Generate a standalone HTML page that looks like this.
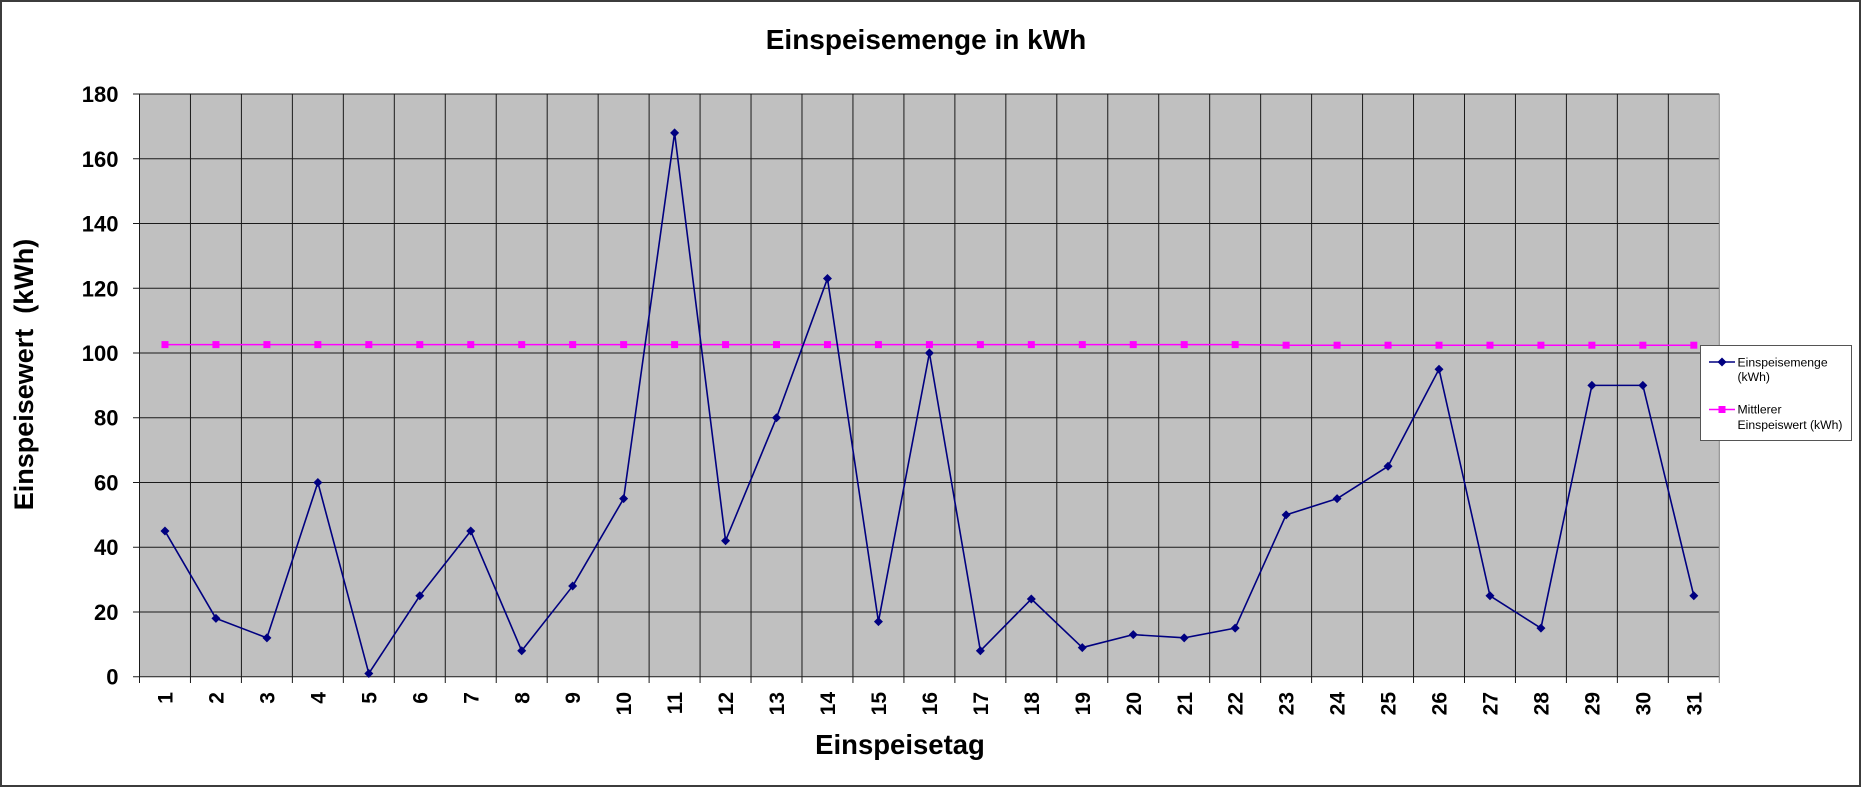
<!DOCTYPE html>
<html>
<head>
<meta charset="utf-8">
<style>
  html, body { margin:0; padding:0; background:#fff; }
  svg { display:block; }
  text { font-family: "Liberation Sans", Arial, sans-serif; }
</style>
</head>
<body>
<svg width="1861" height="787" viewBox="0 0 1861 787" xmlns="http://www.w3.org/2000/svg">
  <defs>
    <path id="dia" d="M0,-4.5 L4.5,0 L0,4.5 L-4.5,0 Z" fill="#000080"/>
    <rect id="sq" x="-3.5" y="-3.5" width="7" height="7" fill="#FF00FF"/>
  </defs>
  <rect x="0" y="0" width="1861" height="787" fill="#fff"/>
  <rect x="1" y="1" width="1859" height="785" fill="none" stroke="#3c3c3c" stroke-width="2"/>

  <!-- title -->
  <text x="926" y="49" font-size="28" font-weight="bold" text-anchor="middle" fill="#000">Einspeisemenge in kWh</text>

  <!-- plot area -->
  <rect x="139.5" y="94" width="1579.8" height="582.7" fill="#C0C0C0"/>

  <!-- horizontal gridlines -->
  <g stroke="#1a1a1a" stroke-width="1">
    <line x1="133" y1="94" x2="1719.3" y2="94"/>
    <line x1="133" y1="158.8" x2="1719.3" y2="158.8"/>
    <line x1="133" y1="223.5" x2="1719.3" y2="223.5"/>
    <line x1="133" y1="288.3" x2="1719.3" y2="288.3"/>
    <line x1="133" y1="353" x2="1719.3" y2="353"/>
    <line x1="133" y1="417.7" x2="1719.3" y2="417.7"/>
    <line x1="133" y1="482.5" x2="1719.3" y2="482.5"/>
    <line x1="133" y1="547.2" x2="1719.3" y2="547.2"/>
    <line x1="133" y1="612" x2="1719.3" y2="612"/>
    <line x1="133" y1="676.7" x2="1719.3" y2="676.7"/>
  </g>
  <!-- vertical gridlines + ticks -->
  <g stroke="#1a1a1a" stroke-width="1">
    <line x1="139.5" y1="94" x2="139.5" y2="683"/>
    <line x1="190.46" y1="94" x2="190.46" y2="683"/>
    <line x1="241.42" y1="94" x2="241.42" y2="683"/>
    <line x1="292.38" y1="94" x2="292.38" y2="683"/>
    <line x1="343.34" y1="94" x2="343.34" y2="683"/>
    <line x1="394.31" y1="94" x2="394.31" y2="683"/>
    <line x1="445.27" y1="94" x2="445.27" y2="683"/>
    <line x1="496.23" y1="94" x2="496.23" y2="683"/>
    <line x1="547.19" y1="94" x2="547.19" y2="683"/>
    <line x1="598.15" y1="94" x2="598.15" y2="683"/>
    <line x1="649.11" y1="94" x2="649.11" y2="683"/>
    <line x1="700.07" y1="94" x2="700.07" y2="683"/>
    <line x1="751.03" y1="94" x2="751.03" y2="683"/>
    <line x1="801.99" y1="94" x2="801.99" y2="683"/>
    <line x1="852.95" y1="94" x2="852.95" y2="683"/>
    <line x1="903.92" y1="94" x2="903.92" y2="683"/>
    <line x1="954.88" y1="94" x2="954.88" y2="683"/>
    <line x1="1005.84" y1="94" x2="1005.84" y2="683"/>
    <line x1="1056.8" y1="94" x2="1056.8" y2="683"/>
    <line x1="1107.76" y1="94" x2="1107.76" y2="683"/>
    <line x1="1158.72" y1="94" x2="1158.72" y2="683"/>
    <line x1="1209.68" y1="94" x2="1209.68" y2="683"/>
    <line x1="1260.64" y1="94" x2="1260.64" y2="683"/>
    <line x1="1311.6" y1="94" x2="1311.6" y2="683"/>
    <line x1="1362.56" y1="94" x2="1362.56" y2="683"/>
    <line x1="1413.53" y1="94" x2="1413.53" y2="683"/>
    <line x1="1464.49" y1="94" x2="1464.49" y2="683"/>
    <line x1="1515.45" y1="94" x2="1515.45" y2="683"/>
    <line x1="1566.41" y1="94" x2="1566.41" y2="683"/>
    <line x1="1617.37" y1="94" x2="1617.37" y2="683"/>
    <line x1="1668.33" y1="94" x2="1668.33" y2="683"/>
  </g>
  <line x1="1719.3" y1="94" x2="1719.3" y2="683" stroke="#808080" stroke-width="1"/>

  <!-- y tick labels -->
  <g font-size="22" font-weight="bold" text-anchor="end" fill="#000">
    <text x="118.5" y="102">180</text>
    <text x="118.5" y="166.8">160</text>
    <text x="118.5" y="231.5">140</text>
    <text x="118.5" y="296.3">120</text>
    <text x="118.5" y="361">100</text>
    <text x="118.5" y="425.7">80</text>
    <text x="118.5" y="490.5">60</text>
    <text x="118.5" y="555.2">40</text>
    <text x="118.5" y="620">20</text>
    <text x="118.5" y="684.7">0</text>
  </g>

  <!-- x tick labels -->
  <g font-size="21" font-weight="bold" text-anchor="end" fill="#000">
    <text transform="translate(164.98,692) rotate(-90)" dy="0.36em">1</text>
    <text transform="translate(215.94,692) rotate(-90)" dy="0.36em">2</text>
    <text transform="translate(266.9,692) rotate(-90)" dy="0.36em">3</text>
    <text transform="translate(317.86,692) rotate(-90)" dy="0.36em">4</text>
    <text transform="translate(368.82,692) rotate(-90)" dy="0.36em">5</text>
    <text transform="translate(419.79,692) rotate(-90)" dy="0.36em">6</text>
    <text transform="translate(470.75,692) rotate(-90)" dy="0.36em">7</text>
    <text transform="translate(521.71,692) rotate(-90)" dy="0.36em">8</text>
    <text transform="translate(572.67,692) rotate(-90)" dy="0.36em">9</text>
    <text transform="translate(623.63,692) rotate(-90)" dy="0.36em">10</text>
    <text transform="translate(674.59,692) rotate(-90)" dy="0.36em">11</text>
    <text transform="translate(725.55,692) rotate(-90)" dy="0.36em">12</text>
    <text transform="translate(776.51,692) rotate(-90)" dy="0.36em">13</text>
    <text transform="translate(827.47,692) rotate(-90)" dy="0.36em">14</text>
    <text transform="translate(878.43,692) rotate(-90)" dy="0.36em">15</text>
    <text transform="translate(929.4,692) rotate(-90)" dy="0.36em">16</text>
    <text transform="translate(980.36,692) rotate(-90)" dy="0.36em">17</text>
    <text transform="translate(1031.32,692) rotate(-90)" dy="0.36em">18</text>
    <text transform="translate(1082.28,692) rotate(-90)" dy="0.36em">19</text>
    <text transform="translate(1133.24,692) rotate(-90)" dy="0.36em">20</text>
    <text transform="translate(1184.2,692) rotate(-90)" dy="0.36em">21</text>
    <text transform="translate(1235.16,692) rotate(-90)" dy="0.36em">22</text>
    <text transform="translate(1286.12,692) rotate(-90)" dy="0.36em">23</text>
    <text transform="translate(1337.08,692) rotate(-90)" dy="0.36em">24</text>
    <text transform="translate(1388.04,692) rotate(-90)" dy="0.36em">25</text>
    <text transform="translate(1439.01,692) rotate(-90)" dy="0.36em">26</text>
    <text transform="translate(1489.97,692) rotate(-90)" dy="0.36em">27</text>
    <text transform="translate(1540.93,692) rotate(-90)" dy="0.36em">28</text>
    <text transform="translate(1591.89,692) rotate(-90)" dy="0.36em">29</text>
    <text transform="translate(1642.85,692) rotate(-90)" dy="0.36em">30</text>
    <text transform="translate(1693.81,692) rotate(-90)" dy="0.36em">31</text>
  </g>

  <!-- axis titles -->
  <text x="900" y="754" font-size="27.5" font-weight="bold" text-anchor="middle" fill="#000">Einspeisetag</text>
  <text transform="translate(33,374.5) rotate(-90)" font-size="27" font-weight="bold" text-anchor="middle" fill="#000" xml:space="preserve">Einspeisewert  (kWh)</text>

  <!-- mean series -->
  <polyline fill="none" stroke="#FF00FF" stroke-width="1.5" points="164.98,344.6 1235.16,344.6 1286.12,345.2 1693.81,345.2"/>
  <g>
    <use href="#sq" x="164.98" y="344.6"/>
    <use href="#sq" x="215.94" y="344.6"/>
    <use href="#sq" x="266.9" y="344.6"/>
    <use href="#sq" x="317.86" y="344.6"/>
    <use href="#sq" x="368.82" y="344.6"/>
    <use href="#sq" x="419.79" y="344.6"/>
    <use href="#sq" x="470.75" y="344.6"/>
    <use href="#sq" x="521.71" y="344.6"/>
    <use href="#sq" x="572.67" y="344.6"/>
    <use href="#sq" x="623.63" y="344.6"/>
    <use href="#sq" x="674.59" y="344.6"/>
    <use href="#sq" x="725.55" y="344.6"/>
    <use href="#sq" x="776.51" y="344.6"/>
    <use href="#sq" x="827.47" y="344.6"/>
    <use href="#sq" x="878.43" y="344.6"/>
    <use href="#sq" x="929.4" y="344.6"/>
    <use href="#sq" x="980.36" y="344.6"/>
    <use href="#sq" x="1031.32" y="344.6"/>
    <use href="#sq" x="1082.28" y="344.6"/>
    <use href="#sq" x="1133.24" y="344.6"/>
    <use href="#sq" x="1184.2" y="344.6"/>
    <use href="#sq" x="1235.16" y="344.6"/>
    <use href="#sq" x="1286.12" y="345.2"/>
    <use href="#sq" x="1337.08" y="345.2"/>
    <use href="#sq" x="1388.04" y="345.2"/>
    <use href="#sq" x="1439.01" y="345.2"/>
    <use href="#sq" x="1489.97" y="345.2"/>
    <use href="#sq" x="1540.93" y="345.2"/>
    <use href="#sq" x="1591.89" y="345.2"/>
    <use href="#sq" x="1642.85" y="345.2"/>
    <use href="#sq" x="1693.81" y="345.2"/>
  </g>

  <!-- main series -->
  <polyline fill="none" stroke="#000080" stroke-width="1.6" stroke-linejoin="round" points="
    164.98,531.04 215.94,618.43 266.9,637.86 317.86,482.48 368.82,673.46
    419.79,595.78 470.75,531.04 521.71,650.8 572.67,586.06 623.63,498.67
    674.59,132.88 725.55,540.75 776.51,417.74 827.47,278.55 878.43,621.67
    929.4,353 980.36,650.8 1031.32,599.01 1082.28,647.57 1133.24,634.62
    1184.2,637.86 1235.16,628.15 1286.12,514.85 1337.08,498.67 1388.04,466.3
    1439.01,369.19 1489.97,595.78 1540.93,628.15 1591.89,385.37 1642.85,385.37
    1693.81,595.78"/>
  <g>
    <use href="#dia" x="164.98" y="531.04"/>
    <use href="#dia" x="215.94" y="618.43"/>
    <use href="#dia" x="266.9" y="637.86"/>
    <use href="#dia" x="317.86" y="482.48"/>
    <use href="#dia" x="368.82" y="673.46"/>
    <use href="#dia" x="419.79" y="595.78"/>
    <use href="#dia" x="470.75" y="531.04"/>
    <use href="#dia" x="521.71" y="650.8"/>
    <use href="#dia" x="572.67" y="586.06"/>
    <use href="#dia" x="623.63" y="498.67"/>
    <use href="#dia" x="674.59" y="132.88"/>
    <use href="#dia" x="725.55" y="540.75"/>
    <use href="#dia" x="776.51" y="417.74"/>
    <use href="#dia" x="827.47" y="278.55"/>
    <use href="#dia" x="878.43" y="621.67"/>
    <use href="#dia" x="929.4" y="353"/>
    <use href="#dia" x="980.36" y="650.8"/>
    <use href="#dia" x="1031.32" y="599.01"/>
    <use href="#dia" x="1082.28" y="647.57"/>
    <use href="#dia" x="1133.24" y="634.62"/>
    <use href="#dia" x="1184.2" y="637.86"/>
    <use href="#dia" x="1235.16" y="628.15"/>
    <use href="#dia" x="1286.12" y="514.85"/>
    <use href="#dia" x="1337.08" y="498.67"/>
    <use href="#dia" x="1388.04" y="466.3"/>
    <use href="#dia" x="1439.01" y="369.19"/>
    <use href="#dia" x="1489.97" y="595.78"/>
    <use href="#dia" x="1540.93" y="628.15"/>
    <use href="#dia" x="1591.89" y="385.37"/>
    <use href="#dia" x="1642.85" y="385.37"/>
    <use href="#dia" x="1693.81" y="595.78"/>
  </g>

  <!-- legend -->
  <rect x="1700.5" y="345.5" width="151" height="95" fill="#fff" stroke="#555" stroke-width="1"/>
  <line x1="1709" y1="362" x2="1735" y2="362" stroke="#000080" stroke-width="1.6"/>
  <use href="#dia" x="1722" y="362"/>
  <line x1="1709" y1="409.5" x2="1735" y2="409.5" stroke="#FF00FF" stroke-width="1.5"/>
  <use href="#sq" x="1722" y="409.5"/>
  <g font-size="12.2" fill="#000">
    <text x="1737.5" y="366.5">Einspeisemenge</text>
    <text x="1737.5" y="381">(kWh)</text>
    <text x="1737.5" y="413.5">Mittlerer</text>
    <text x="1737.5" y="429">Einspeiswert (kWh)</text>
  </g>
</svg>
</body>
</html>
